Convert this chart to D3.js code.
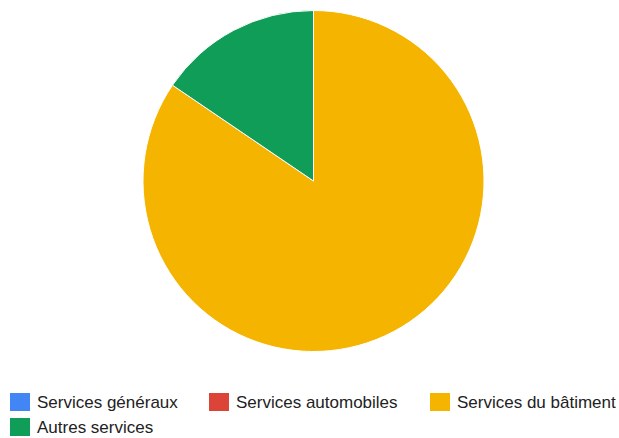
<!DOCTYPE html>
<html>
<head>
<meta charset="utf-8">
<script src="https://cdn.jsdelivr.net/npm/d3@7"></script>
<style>
  html, body { margin: 0; padding: 0; background: #fff; }
  svg { display: block; }
</style>
</head>
<body>
<svg id="chart" width="619" height="438"></svg>
<script>
const categories = ["Services généraux", "Services automobiles", "Services du bâtiment", "Autres services"];
const values = [0, 0, 84.5, 15.5];
const colors = ["#4285f4", "#db4437", "#f4b400", "#0f9d58"];

const svg = d3.select("#chart");
const W = 619, H = 438;
const cx = 313.5, cy = 181, R = 170.5;

const data = categories.map((c, i) => ({ name: c, value: values[i], color: colors[i] }));

const pie = d3.pie().sort(null).value(d => d.value);
const arc = d3.arc().innerRadius(0).outerRadius(R);

svg.append("g")
  .attr("transform", `translate(${cx},${cy})`)
  .selectAll("path")
  .data(pie(data).filter(d => d.data.value > 0))
  .join("path")
  .attr("d", arc)
  .attr("fill", d => d.data.color)
  .attr("stroke", "#ffffff")
  .attr("stroke-width", 1);

// Legend
const legendPos = [
  { x: 10, y: 393 },
  { x: 209, y: 393 },
  { x: 430, y: 393 },
  { x: 10, y: 418 }
];
const lg = svg.append("g").selectAll("g")
  .data(data)
  .join("g")
  .attr("transform", (d, i) => `translate(${legendPos[i].x},${legendPos[i].y})`);

lg.append("rect")
  .attr("width", 20)
  .attr("height", 18)
  .attr("fill", d => d.color);

lg.append("text")
  .attr("x", 27)
  .attr("y", 15)
  .attr("font-family", "'Liberation Sans', Arial, Helvetica, sans-serif")
  .attr("font-size", 17)
  .attr("fill", "#222222")
  .text(d => d.name);
</script>
</body>
</html>
